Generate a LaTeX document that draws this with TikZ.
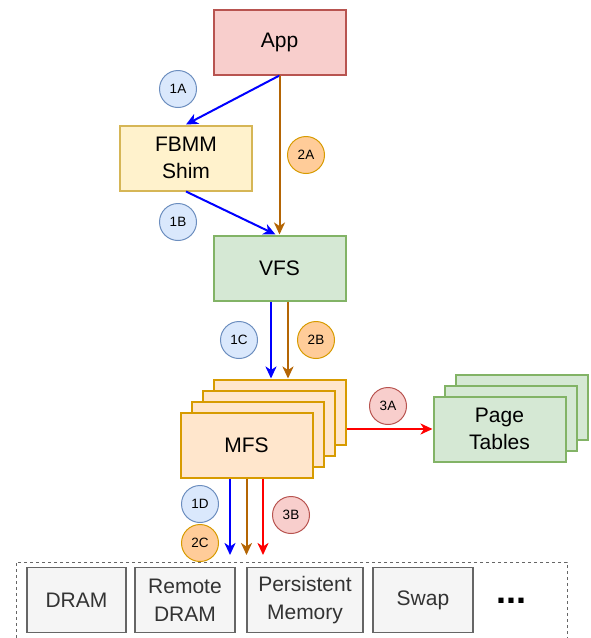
\documentclass[tikz,border=0pt]{standalone}
\usepackage{fontspec}
\setmainfont{Liberation Sans}
\usetikzlibrary{arrows.meta}

\definecolor{appfill}{HTML}{F8CECC}
\definecolor{appline}{HTML}{B85450}
\definecolor{shimfill}{HTML}{FFF2CC}
\definecolor{shimline}{HTML}{D6B656}
\definecolor{vfsfill}{HTML}{D5E8D4}
\definecolor{vfsline}{HTML}{82B366}
\definecolor{mfsfill}{HTML}{FFE6CC}
\definecolor{mfsline}{HTML}{D79B00}
\definecolor{tagblue}{HTML}{DAE8FC}
\definecolor{tagblueline}{HTML}{6C8EBF}
\definecolor{tagorange}{HTML}{FFCC99}
\definecolor{tagorangeline}{HTML}{D79B00}
\definecolor{memfill}{HTML}{F5F5F5}
\definecolor{memline}{HTML}{666666}
\definecolor{memtext}{HTML}{333333}
\definecolor{pathbrown}{HTML}{B46504}

\begin{document}
\begin{tikzpicture}[x=1pt,y=-1pt,
  box/.style={draw,line width=2pt,minimum width=132pt,minimum height=65pt,
    align=center,font=\fontsize{21}{27}\selectfont},
  membox/.style={draw=memline,fill=memfill,line width=1.5pt,minimum height=65pt,
    align=center,text=memtext,font=\fontsize{21}{28}\selectfont},
  tag/.style={circle,draw,line width=1pt,minimum size=37pt,inner sep=0pt,
    font=\fontsize{13.5}{13.5}\selectfont},
  tag1/.style={tag,fill=tagblue,draw=tagblueline},
  tag2/.style={tag,fill=tagorange,draw=tagorangeline},
  tag3/.style={tag,fill=appfill,draw=appline},
  flow/.style={line width=2pt,-{Stealth[length=12pt,width=11pt,inset=3.5pt]}}]
\useasboundingbox (0,0) rectangle (590,638);

\node[box,fill=appfill,draw=appline] (app) at (279.5,42) {App};
\node[box,fill=shimfill,draw=shimline] (shim) at (186,158) {FBMM\\Shim};
\node[box,fill=vfsfill,draw=vfsline] (vfs) at (279.5,268) {VFS};

% stacked MFS instances
\node[box,fill=mfsfill,draw=mfsline] (mfs3) at (279.5,412) {};
\node[box,fill=mfsfill,draw=mfsline] (mfs2) at (268.5,423) {};
\node[box,fill=mfsfill,draw=mfsline] (mfs1) at (257.5,434) {};
\node[box,fill=mfsfill,draw=mfsline] (mfs) at (246.5,445) {MFS};

% stacked page tables
\node[box,fill=vfsfill,draw=vfsline] (pt2) at (521.5,407) {};
\node[box,fill=vfsfill,draw=vfsline] (pt1) at (510.5,418) {};
\node[box,fill=vfsfill,draw=vfsline] (pt) at (499.5,429) {Page\\Tables};

% memory back ends
\node[draw=memline,line width=1pt,dash pattern=on 3pt off 3pt,
  minimum width=551pt,minimum height=79pt] (mem) at (291.5,601.5) {};
\node[membox,minimum width=99pt] (dram) at (76.5,600) {DRAM};
\node[membox,minimum width=100pt] (rdram) at (185,600) {Remote\\DRAM};
\node[membox,minimum width=116pt] (pmem) at (305,600) {Persistent\\Memory};
\node[membox,minimum width=100pt] (swap) at (423,600) {Swap};
\node[font=\fontsize{36}{36}\selectfont\bfseries] (more) at (511,601) {...};
\coordinate (memtop) at (246.5,555);

\draw[flow,blue] (app.south) -- (shim.north);
\draw[flow,pathbrown] (app.south) -- (vfs.north);
\draw[flow,blue] (shim.south) -- ([xshift=-4pt]vfs.north);
\draw[flow,blue] ([xshift=-8.5pt]vfs.south) -- ([xshift=-8.5pt]vfs.south |- mfs3.north);
\draw[flow,pathbrown] ([xshift=8.5pt]vfs.south) -- ([xshift=8.5pt]vfs.south |- mfs3.north);
\draw[flow,red] (mfs3.east |- pt.west) -- (pt.west);
\draw[flow,blue] ([xshift=-16.5pt]mfs.south) -- ([xshift=-16.5pt]mfs.south |- memtop);
\draw[flow,pathbrown] (mfs.south) -- (mfs.south |- memtop);
\draw[flow,red] ([xshift=16.5pt]mfs.south) -- ([xshift=16.5pt]mfs.south |- memtop);

\node[tag1] (t1a) at (178,89) {1A};
\node[tag1] (t1b) at (178,222) {1B};
\node[tag1] (t1c) at (239,340) {1C};
\node[tag1] (t1d) at (200,504) {1D};
\node[tag2] (t2a) at (306,155) {2A};
\node[tag2] (t2b) at (316,340) {2B};
\node[tag2] (t2c) at (200,543) {2C};
\node[tag3] (t3a) at (388,406) {3A};
\node[tag3] (t3b) at (291,515) {3B};
\end{tikzpicture}
\end{document}
